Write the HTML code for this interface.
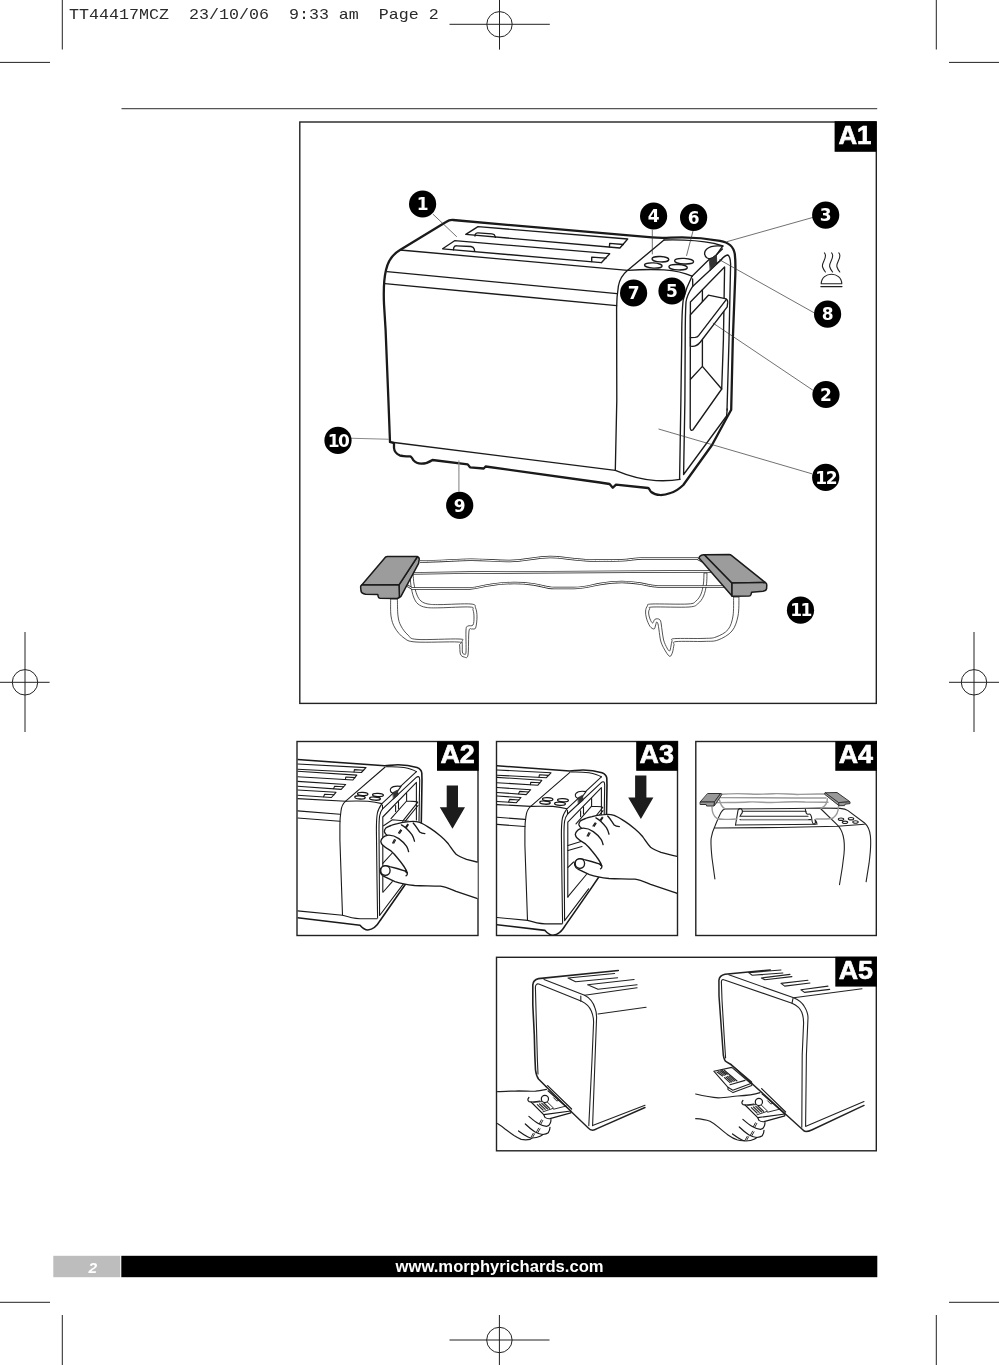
<!DOCTYPE html>
<html lang="en">
<head>
<meta charset="utf-8">
<title>Morphy Richards TT44417MCZ - Page 2</title>
<style>
html,body{margin:0;padding:0;background:#fff;}
body{width:999px;height:1365px;position:relative;overflow:hidden;font-family:"Liberation Sans",sans-serif;}
#art{position:absolute;left:0;top:0;width:999px;height:1365px;}
body>*{will-change:transform;}
.slug{position:absolute;left:69.4px;top:4.6px;font-family:"Liberation Mono",monospace;font-size:14.4px;line-height:20px;color:#2a2a2a;white-space:pre;transform:scaleX(1.1574);transform-origin:0 0;}
</style>
</head>
<body>
<div class="slug">TT44417MCZ  23/10/06  9:33 am  Page 2</div>
<svg id="art" viewBox="0 0 999 1365" width="999" height="1365">
<!-- CROP MARKS -->
<g stroke="#222" stroke-width="1" fill="none">
<path d="M62.3 0V49.5M0 62.4H50M936.3 0V49.5M949 62.4H999M0 1302.3H50M62.3 1315V1365M949 1302.3H999M936.3 1315V1365"/>
<path d="M449.5 24.3H549.8M499.5 0V49.6"/><circle cx="499.5" cy="24.3" r="12.7"/>
<path d="M449.5 1340H549.5M499.4 1315V1365"/><circle cx="499.4" cy="1340" r="12.7"/>
<path d="M0 682.3H49.6M25 632V732"/><circle cx="25" cy="682.3" r="12.7"/>
<path d="M949 682.3H999M974 632V732"/><circle cx="974" cy="682.3" r="12.7"/>
</g>
<!-- RULE -->
<path d="M121.5 108.6H877.2" stroke="#555" stroke-width="1.2" fill="none"/>
<!-- BOXES -->
<g stroke="#222" stroke-width="1.4" fill="none">
<rect x="299.8" y="122" width="576.5" height="581.4"/>
<rect x="297" y="741.5" width="181" height="194"/>
<rect x="496.5" y="741.5" width="181" height="194"/>
<rect x="695.8" y="741.5" width="180.5" height="194"/>
<rect x="496.5" y="957.3" width="379.8" height="193.5"/>
</g>
<g id="fig-a1" fill="none" stroke="#1a1a1a" stroke-linecap="round" stroke-linejoin="round">
<!-- toaster silhouette -->
<path stroke-width="2.3" d="M390 442 L388.4 400 L385.6 330 L384 304 C383.4 290 383.6 280 386 270 C388 261 393 254 400 250 L446 222 Q449.5 219.7 453 220 L540 227.7 L600 232.8 L652 237.4 C664 238.6 670 237.3 682 237.3 C695 237.3 708 238.6 720 240.8 C729 242.5 733.5 246 734.8 254 C735.8 262 735.4 268 735.3 275 L732.8 340 L731.2 409.7 L727.2 417 L712 445 L683.3 485 C679 489 675 492 670.5 493 C664 495.6 656 496 651.2 492 C649.5 490.5 649.5 488.3 648 488 L616 484.6 L612.8 487.8 L609.6 484 L600 482.5 L485.6 466.5 L483.7 468.5 L470 467.3 L467.7 464.4 L432.5 460 C428 463 425 463.7 421.2 463.7 C417 463.7 414.5 461.5 413.2 460 C412 457.5 411.5 456.5 410 456.4 C405 456.2 402 456 399.6 455.3 C396 453.5 394.3 451 394 448 L394 443.2 L390 442"/>
<g stroke-width="1.35">
<!-- top face edges -->
<path d="M400 250 L627.7 270.3"/>
<path d="M387 271.6 L617 293.6"/>
<path d="M385 283.6 L616.6 305.6"/>
<path d="M390 442 L615.3 470.3"/>
<!-- slots -->
<path d="M478 226.6 L627.7 239 L619.9 248 L465.8 234.4 Z"/>
<path d="M475 236 L475.3 234.2 Q476 232.8 478 232.9 L492 233.8 Q494.6 234 495 236 L495.4 237.4"/>
<path d="M609.4 246.9 L609.7 243.4 L623.4 244.5"/>
<path d="M454.6 240.7 L609.7 253.7 L601.3 262.7 L442.6 248.8 Z"/>
<path d="M453.4 249.8 L453.8 247.6 Q454.6 245.7 456.6 245.8 L471 246.5 Q473.6 246.8 474.2 249 L474.7 251.4"/>
<path d="M591.7 261.6 L591.7 257.2 L606 258.1"/>
<!-- control panel -->
<path d="M664 240 L627.7 270.3 C622 275 619.5 280 618.4 286 C617 295 616.6 300 616.6 308 L616.8 400 L615.3 470.3"/>
<path d="M627.7 270.3 C640 269.5 650 269.2 664 269.8 C675 270.5 684 272.5 692 276.2"/>
<path d="M615.3 470.3 C630 476.5 642 479.5 656 480.6 C666 481 674 480.5 680 479.3"/>
<path d="M664 240 C680 239.6 700 240.6 714 243.4 L722.8 246"/>
<path d="M692 276.2 L722.8 246"/>
<ellipse cx="660.4" cy="259.2" rx="8.4" ry="2.7" transform="rotate(3 660.4 259.2)"/>
<ellipse cx="684.1" cy="261.2" rx="9.5" ry="2.8" transform="rotate(3 684.1 261.2)"/>
<ellipse cx="653.3" cy="265.5" rx="8.8" ry="2.6" transform="rotate(3 653.3 265.5)"/>
<ellipse cx="678.1" cy="267.2" rx="9.2" ry="2.7" transform="rotate(3 678.1 267.2)"/>
</g>

<g stroke-width="1.35">
<!-- side face frame -->
<path d="M692 276.2 C688.5 283 685 292 683.2 300 C682 310 681.7 325 681.7 340 L680.9 400 L679.6 479.3"/>
<path d="M692.6 279 L692.8 286.2 C689 292 686.6 297 686 302 C685.2 315 685.2 328 685.2 340 L684.9 400 L683.6 474.5 L726.6 416 L727.2 409"/>
<path d="M692.8 286.2 L720.5 260.5 C723 257.5 725.5 255.2 727.6 255 C729.6 255.6 730.4 259 730.6 264 L729 340 L727 410"/>
<!-- window -->
<path d="M690.4 302 L724.6 267 L723.4 340 L721.7 389 L692.8 430 Q690.6 431.2 690.2 428 Z"/>
<path d="M702.4 290 L702.4 366.4 L690.5 379.3 M702.4 366.4 L721.7 389"/>
<!-- lever -->
<path fill="#fff" d="M708.4 295.2 L725.2 298.6 C727.4 299.2 727.8 300.6 727.7 302.4 L727.2 306.8 L700.4 342 C698 345 695.5 346.4 692.5 346.4 L690.4 346.2 L690.4 314.8 Z"/>
<path d="M726.4 299.4 L698.6 335.6 Q697.5 337.2 695.2 337.4 L690.4 337.6"/>
<!-- knob -->
<path fill="#fff" d="M722.6 246.2 C716 245.4 709.5 246.6 706.5 249.2 C703.6 252 704.2 256 707.2 258 C710 259.6 713 258.4 716 255.6 Z"/>
<path fill="#333" stroke="#222" stroke-width="0.8" d="M709.6 259.8 L716.4 254.6 L716.8 263.8 L710.4 270.2 Z"/>
<path d="M716.6 254.4 L722.4 249 M716.8 263.6 L721.6 259.4"/>
</g>
<!-- bun warmer icon -->
<g stroke-width="1.1" stroke="#222">
<path d="M824.4 252.8 C828.5 257 821 262.5 822.6 267 C823.2 269 824.2 270.5 825.4 272"/>
<path d="M831.6 252.8 C835.7 257 828.2 262.5 829.8 267 C830.4 269 831.4 270.5 832.6 272"/>
<path d="M838.8 252.8 C842.9 257 835.4 262.5 837 267 C837.6 269 838.6 270.5 839.8 272"/>
<path d="M821.2 283.8 C821.6 271 841.4 271 841.8 283.8 Z"/>
<path d="M820.8 286.6 H842"/>
</g>
<!-- leaders -->
<g stroke-width="0.7" stroke="#333">
<path d="M433.2 214.4 L456.5 236.5"/>
<path d="M727.2 241.6 L812.6 217.5"/>
<path d="M652.3 230 L652.3 254"/>
<path d="M693 231 L686.6 255.5"/>
<path d="M719.6 259.8 L814.5 313"/>
<path d="M713.2 323.2 L812.6 390"/>
<path d="M658.9 429.1 L811.6 473.7"/>
</g>
<g stroke-width="1.1" stroke="#8a8a8a">
<path d="M458.9 460.9 L458.9 491.3"/>
<path d="M351.6 438.3 L388.5 439.3"/>
</g>
<!-- callouts -->
<g stroke="none" fill="#000">
<circle cx="422.6" cy="204" r="13.6"/><circle cx="653.6" cy="216" r="13.6"/><circle cx="693.6" cy="217.4" r="13.6"/>
<circle cx="633.6" cy="293" r="13.6"/><circle cx="672" cy="291" r="13.6"/><circle cx="825.7" cy="215.1" r="13.6"/>
<circle cx="827.6" cy="314.1" r="13.6"/><circle cx="826" cy="394.5" r="13.6"/><circle cx="825.7" cy="477.4" r="13.6"/>
<circle cx="338" cy="440.4" r="13.6"/><circle cx="459.7" cy="505.4" r="13.6"/><circle cx="800.5" cy="610.2" r="13.6"/>
</g>
<g stroke="none" fill="#fff" font-family="'DejaVu Sans','Liberation Sans',sans-serif" font-weight="bold" font-size="17" text-anchor="middle" stroke="#fff" stroke-width="0.35">
<text x="422.6" y="210.2">1</text><text x="653.6" y="222.2">4</text><text x="693.6" y="223.6">6</text>
<text x="633.6" y="299.2">7</text><text x="672" y="297.2">5</text><text x="825.7" y="221.3">3</text>
<text x="827.6" y="320.3">8</text><text x="826" y="400.7">2</text><text x="825.7" y="483.6" letter-spacing="-1.5">12</text>
<text x="338" y="446.6" letter-spacing="-1.5">10</text><text x="459.7" y="511.6">9</text><text x="800.5" y="616.4" letter-spacing="-1.5">11</text>
</g>
<!-- rack -->
<g id="rack" fill="none" stroke-linecap="butt" stroke-linejoin="round">
<path d="M390.6 599 C390.7 601.8 390.3 611.2 391 616 C391.7 620.8 392.8 624.3 395 628 C397.2 631.7 400.5 635.7 404 638 C407.5 640.3 407.0 641.3 416 642 C425.0 642.7 450.7 641.5 458 642 C465.3 642.5 459.2 643.0 459.6 645 C460.0 647.0 459.7 652.0 460.4 654 C461.1 656.0 462.7 656.8 464 657 C465.3 657.2 467.2 659.3 468 655 C468.8 650.7 468.3 635.3 469 631 C469.7 626.7 470.9 629.5 472 629 C473.1 628.5 474.8 630.0 475.6 628 C476.4 626.0 477.0 620.3 477 617 C477.0 613.7 476.6 610.2 475.6 608 C474.6 605.8 476.9 604.6 471 604 C465.1 603.4 447.2 604.6 440 604.6 C432.8 604.6 431.2 604.6 428 604 C424.8 603.4 422.8 602.5 421 601 C419.2 599.5 418.2 597.8 417 595 C415.8 592.2 414.6 587.3 414 584 C413.4 580.7 413.3 576.5 413.2 575 L410.2 575 C410.3 576.8 410.4 582.3 411 586 C411.6 589.7 412.4 594.0 413.6 597 C414.8 600.0 415.9 602.3 418 604 C420.1 605.7 422.3 606.8 426 607.4 C429.7 608.0 432.7 607.9 440 607.8 C447.3 607.7 464.5 606.6 470 607 C475.5 607.4 472.3 608.3 473 610 C473.7 611.7 474.0 614.5 474 617 C474.0 619.5 474.0 623.5 473 625 C472.0 626.5 469.2 625.2 468 626 C466.8 626.8 466.3 625.7 466 630 C465.7 634.3 466.3 648.0 466 652 C465.7 656.0 464.6 654.0 464 654 C463.4 654.0 462.7 654.0 462.4 652 C462.1 650.0 462.6 644.2 462 642 C461.4 639.8 466.5 639.4 459 639 C451.5 638.6 425.5 640.1 417 639.4 C408.5 638.7 410.7 637.2 408 635 C405.3 632.8 402.7 629.2 401 626 C399.3 622.8 398.6 620.5 398 616 C397.4 611.5 397.5 601.8 397.4 599 Z" fill="#fff" stroke="#2a2a2a" stroke-width="0.8"/>
<path d="M739 597 C738.8 600.2 739.2 610.3 738 616 C736.8 621.7 735.3 627.0 732 631 C728.7 635.0 722.7 638.3 718 640 C713.3 641.7 711.0 641.1 704 641.4 C697.0 641.7 681.0 641.0 676 641.6 C671.0 642.2 674.6 643.3 674 645 C673.4 646.7 673.3 650.1 672.6 652 C671.9 653.9 671.1 656.4 670 656.4 C668.9 656.4 667.5 654.4 666 652 C664.5 649.6 662.2 645.7 661 642 C659.8 638.3 659.5 633.0 659 630 C658.5 627.0 658.4 625.3 658 624 C657.6 622.7 657.0 621.7 656.6 622 C656.2 622.3 655.8 624.8 655.4 626 C655.0 627.2 654.9 628.9 654 629 C653.1 629.1 651.3 628.2 650 626.4 C648.7 624.6 647.1 620.6 646.4 618 C645.7 615.4 645.4 613.0 645.6 611 C645.8 609.0 646.3 607.2 647.4 606 C648.5 604.8 645.2 604.3 652 604 C658.8 603.7 680.7 604.5 688 604 C695.3 603.5 693.8 602.7 696 601 C698.2 599.3 699.8 596.8 701 594 C702.2 591.2 702.9 587.5 703.4 584 C703.9 580.5 703.9 574.8 704 573 L707 573 C706.9 575.0 707.0 581.2 706.4 585 C705.8 588.8 705.0 592.9 703.6 596 C702.2 599.1 700.4 601.8 698 603.6 C695.6 605.4 696.5 606.4 689 607 C681.5 607.6 659.6 606.7 653 607 C646.4 607.3 650.3 608.0 649.6 609 C648.9 610.0 648.5 611.3 648.6 613 C648.7 614.7 649.3 617.3 650 619 C650.7 620.7 651.8 622.9 652.6 623 C653.4 623.1 653.8 620.3 654.6 619.6 C655.4 618.9 656.6 618.6 657.6 618.8 C658.6 619.0 659.9 619.1 660.6 621 C661.3 622.9 661.5 626.8 662 630 C662.5 633.2 662.8 637.0 663.6 640 C664.4 643.0 666.0 646.2 667 648 C668.0 649.8 668.9 651.3 669.6 651 C670.3 650.7 670.6 647.7 671 646 C671.4 644.3 671.4 642.2 672 641 C672.6 639.8 669.3 639.0 674.6 638.6 C679.9 638.2 697.1 638.7 704 638.4 C710.9 638.1 712.0 638.5 716 637 C720.0 635.5 725.2 633.1 728 629.6 C730.8 626.1 732.1 621.4 733 616 C733.9 610.6 733.5 600.2 733.6 597 Z" fill="#fff" stroke="#2a2a2a" stroke-width="0.8"/>
<path d="M420 561.4 C440 561.2 455 560 470 559.7 C485 559.5 495 561.2 510 561 C525 560.8 535 557.2 550 557 C560 556.9 575 560 590 560.4 C605 560.7 612 560.6 622 560.3 C630 560 635 558.5 642 558.4 L697 558.4 L703 561.6" stroke="#2a2a2a" stroke-width="2.5"/><path d="M420 561.4 C440 561.2 455 560 470 559.7 C485 559.5 495 561.2 510 561 C525 560.8 535 557.2 550 557 C560 556.9 575 560 590 560.4 C605 560.7 612 560.6 622 560.3 C630 560 635 558.5 642 558.4 L697 558.4 L703 561.6" stroke="#fff" stroke-width="1.0"/>
<path d="M408 573.4 L470 572.6 L670 571.5 L714 571.6" stroke="#2a2a2a" stroke-width="2.5"/><path d="M408 573.4 L470 572.6 L670 571.5 L714 571.6" stroke="#fff" stroke-width="1.0"/>
<path d="M401 584.4 L408 586 L412 588.5 L470 588.4 C478 588 482 586 490 585 C500 583.4 506 583 514 583 C522 583 528 583.6 534 584.4 C542 585.6 547 588 554 588 L574 588 C584 588 592 585.4 600 584 C608 582.6 614 582 622 582 C630 582 635 582.8 640 583.6 C648 585 652 586.2 658 586.4 L726 586.4" stroke="#2a2a2a" stroke-width="2.5"/><path d="M401 584.4 L408 586 L412 588.5 L470 588.4 C478 588 482 586 490 585 C500 583.4 506 583 514 583 C522 583 528 583.6 534 584.4 C542 585.6 547 588 554 588 L574 588 C584 588 592 585.4 600 584 C608 582.6 614 582 622 582 C630 582 635 582.8 640 583.6 C648 585 652 586.2 658 586.4 L726 586.4" stroke="#fff" stroke-width="1.0"/>
</g>
<g stroke="#1a1a1a" stroke-width="1.5" stroke-linejoin="round" fill="#9c9c9c">
<path d="M399 584.8 L417.4 556.8 Q419.4 557.4 419.2 559.4 L418.6 563.4 L400.8 596.6 Q399.6 598 397.6 598.2 L399 597 Z"/>
<path d="M361.8 585 L385.4 557.2 Q386.2 556.6 387.4 556.6 L417.4 556.6 L399 584.8 Z"/>
<path d="M361.8 585 L399 584.8 L399.4 596.4 Q399 598.2 397 598.4 L380 598.2 Q378.4 598 378.2 596.6 L377.8 594.6 L365.6 594.2 Q361.6 593.6 361 591 L360.6 587 Q360.6 585.4 361.8 585 Z"/>
<path d="M732 583 L704.4 554.8 Q701.6 554.4 699.6 556.6 L699 558 L732 596 Z"/>
<path d="M704.4 554.8 L729 554.5 Q730.6 554.6 731.4 555.4 L765.4 582.6 L732 583 Z"/>
<path d="M732 583 L765.4 582.6 Q766.8 583.4 766.8 585 L766.6 588.6 Q766.2 590.8 763 591.2 L751.6 592.2 L751 594.6 Q750.6 596 749 596.1 L732 596.2 Z"/>
</g>
</g>

<defs>
<clipPath id="clipA2"><rect x="297.6" y="742" width="180" height="193"/></clipPath>
<clipPath id="clipA3"><rect x="497.1" y="742" width="180" height="193"/></clipPath>
<g id="toaster4" fill="none" stroke="#1a1a1a" stroke-linecap="round" stroke-linejoin="round">
<!-- outer -->
<path stroke-width="1.6" d="M270 757.5 L297.6 759.5 L384.8 765.8 C390 765.4 394 764.8 398 764.8 C404 764.8 412 766 417 767.5 C420 768.6 421.4 770 421.8 773 L422 780 L421.3 822 L420.5 862 L405.4 884.2 L380 920.7 C377 926 373 929.6 367.9 930 C364 929.8 362 927.5 360 925.2 L297.6 917.8 L270 914.5"/>
<g stroke-width="1.1">
<!-- slots -->
<path d="M270 762 L297.6 764 L366 767.6 L361.4 772.5 L297.6 769.3 L270 767.9"/>
<path d="M354 771.9 L354.4 769.6 L363.6 770.2"/>
<path d="M270 769.4 L297.6 771.2 L356.8 775.1 L352.9 780 L297.6 776.7 L270 775"/>
<path d="M345.4 779.4 L345.8 777 L355 777.6"/>
<path d="M270 779.6 L297.6 781.4 L345.7 784.5 L341.2 789.4 L297.6 786.2 L270 784.2"/>
<path d="M333.6 788.6 L334.6 786.2 L343.6 786.8"/>
<path d="M270 788.4 L297.6 790 L336 792.3 L331.4 797.5 L297.6 795.3 L270 793.5"/>
<path d="M323.6 796.8 L324.6 794.2 L334 794.8"/>
<!-- front edge of top and bands -->
<path d="M270 797 L297.6 798.6 L345.7 801.2"/>
<path d="M270 808.8 L297.6 810.9 L339.9 814.2"/>
<path d="M270 816 L297.6 818 L339.9 821.3"/>
<path d="M270 907.8 L297.6 910.9 L342.5 915.2 C350 917.5 355 918.4 360 918.7 L377 918.7"/>
<!-- panel -->
<path d="M385.2 767 L345.7 801.2 C342.5 804 341.4 807 341 811 C340.2 816 339.9 820 339.9 825 L339.9 840 L342.5 915"/>
<path d="M345.7 801.2 C353 801 360 801 367.9 801.2 C373 801.6 377.5 802.4 381.9 803.6 L416.4 771.7"/>
<path d="M386.5 766.8 C393 766.6 400 767 404 767.5 C409 768.4 413 769.6 416.4 771.6"/>
<ellipse cx="362.7" cy="794" rx="5.2" ry="1.6" stroke-width="1.3" transform="rotate(3 362.7 794)"/>
<ellipse cx="378" cy="795" rx="5.4" ry="1.6" stroke-width="1.3" transform="rotate(3 378 795)"/>
<ellipse cx="360" cy="797.4" rx="5.2" ry="1.6" stroke-width="1.3" transform="rotate(3 360 797.4)"/>
<ellipse cx="375" cy="798.6" rx="5.4" ry="1.6" stroke-width="1.3" transform="rotate(3 375 798.6)"/>
<!-- side frame -->
<path d="M381.9 803.6 C379.6 807 378 810 377.4 813 C376.6 817 376.4 822 376.4 830 L377 880 L377.6 918"/>
<path d="M382.4 805 L382.6 808.8 C381 811 380 813.5 379.6 816 C379 820 379 826 379 830 L379.6 915.5 L403.6 883.6"/>
<path d="M382.6 808.8 L416 777.6 C417.6 776.4 418.8 776.2 419.4 777.6 L419.7 780 L419 821.2"/>
<path d="M382.8 817 L416.4 782.4 L416.4 819.9 M382.8 817 L382.8 892"/>
<path d="M406.6 793.2 L406.6 801 L417 801.6 M406.6 801 L391 818.6 M417.7 802.3 L402.7 821.2 M418 805.5 L405.3 821.2"/>
<path d="M395.6 805.5 L395.6 811.4 M398.5 801.6 L398.5 808.8"/>
<!-- knob -->
<path fill="#fff" d="M401 786.4 C397 785.8 392.6 786.4 391 788.2 C389.6 790 390.4 792.2 392.6 793 C394.6 793.4 396.4 792.4 398 790.6 Z"/>
<path fill="#333" stroke="#222" stroke-width="0.6" d="M393 792.5 L397.5 790 L398.2 795.1 L393.6 799 Z"/>
</g>
</g>
<g id="hand4" fill="#fff" stroke="#1a1a1a" stroke-width="1.35" stroke-linecap="round" stroke-linejoin="round">
<path d="M490 865.2 L478 862.3 L466.5 859.4 C462 857.6 458.6 856 456.1 854.2 C453 851 451 847.5 448.3 843.8 C446 841 443.5 838.5 440.5 836 C437 833 433 830 430 828.1 C426 825.6 423 823.5 419.7 822.3 C416 821.2 412 821.2 409.3 821.6 C405 822 401 822.6 397.5 823.6 C394 824.4 392 825 391 825.5 C388 826.6 386.6 827.4 385.8 828.1 C384.6 829.4 384.2 830.6 384.5 832 C385 833.5 386 834.6 387.1 835.3 C385 835.8 384 836.5 383.2 837.3 C381.6 838.8 380.6 840.2 380.9 841.8 C381.2 843.4 381.8 844.2 382.6 845 C385 847.5 388 849 391 850.9 C393.5 853 395.5 855.4 397.5 858 C400 861 402 863.6 404 866.5 C405.4 868.6 406.6 870.6 407.3 873 L405.4 871.2 L397 868.5 L389.7 866.7 C387 865.6 384.6 865.4 382.6 866.6 C380.4 868 379.8 870.6 380.4 872.6 C381 874.6 382.4 875.8 383.9 876.4 C388 878.4 391 880 395 881.6 C401 883.6 408 884.8 414.5 885.5 C424 886 432 885.6 440.5 886.2 C446 887 451 889.4 456.1 891.4 L477.6 898.6 L490 902.6 Z"/>
<g fill="none">
<path d="M413.2 823 C416 826 417.6 829.4 419.7 832 C421 833.2 423 833.6 424.9 833.6"/>
<path d="M401.4 824.9 C405 826.6 408.6 830.4 411.9 834.7 C413.2 836.8 414 839 414.5 841.2"/>
<path d="M387.1 835.3 C391 834.8 395.6 836.4 398.8 838.6 C402 840.8 404.6 843.6 406.6 846.4 C407.6 848 408.2 849.8 408.6 851.6"/>
<circle cx="385.4" cy="870.6" r="4.7" fill="#fff"/>
<path d="M405.4 871.2 L407.3 873 C407.6 874.4 407 875.4 406 875.8"/>
<path stroke-width="1.1" d="M405.6 827 L407.6 824.2 M406.6 827.4 L408.4 824.8 M398.4 833 L400.6 829.8 M399.6 833.4 L401.6 830.4 M392.6 843 L394.4 839.6 M393.8 843.2 L395.6 840"/>
</g>
</g>
</defs>
<g clip-path="url(#clipA2)">
<use href="#toaster4"/>
<path d="M382.8 863.4 L392.3 853 M383.2 892 L392.3 881.6" fill="none" stroke="#1a1a1a" stroke-width="1.1" stroke-linecap="round"/>
<path d="M383.2 826 L392.3 819.7 L409 821.2" fill="none" stroke="#1a1a1a" stroke-width="1.1"/>
<use href="#hand4"/>
<path d="M446.7 785.5 H458 V807.3 H465 L452.5 828.8 L439.8 807.3 H446.7 Z" fill="#1c1c1c"/>
</g>

<g clip-path="url(#clipA3)">
<use href="#toaster4" transform="translate(185 5.2)"/>
<path d="M568 896.6 L586.4 874.5 M568 867.4 L573.6 862 M568 845.5 L581 841.5 M568 850.5 L582 846.5" fill="none" stroke="#1a1a1a" stroke-width="1.1" stroke-linecap="round"/>
<use href="#hand4" transform="translate(194.5 -7)"/>
<path d="M446.7 785.5 H458 V807.3 H465 L452.5 828.8 L439.8 807.3 H446.7 Z" fill="#1c1c1c" transform="translate(188.4 -9.9)"/>
</g>

<g id="fig-a4" fill="none" stroke="#222" stroke-linecap="round" stroke-linejoin="round">
<!-- toaster body -->
<g stroke-width="1.1">
<path d="M714.9 879 L712 858 C711 848 710.6 842 711.2 838 C712 833 713.4 829.4 715 826 C717 821 719 816 721 812.4 C722.4 810 723.4 809.2 725 809 L794 808.5 L820 808 L840 808.4 C844 808.8 846.4 809.6 848 810.6 L864.6 823 C867.6 825.6 869.6 829 870.4 836 C871.2 844 870.6 852 869 863.7 L866.1 881.8"/>
<path d="M821 809 L837 824.6 C840 827.4 842 831 843.2 836 C844.4 841 844.6 848 844 854 L842.3 867.5 L839.5 884.7"/>
<path d="M714.6 828 L780 827.5 L837.6 826.3 L864.4 824.3"/>
<!-- slot lines -->
<path d="M742.4 811.2 H806 M741 816.3 H808 M740 819.6 H811 M735.5 825 L794 824.5 L816 824.3"/>
<path d="M735.5 825 L737.5 813.4 L738 810.4 C738.6 808.4 740.6 808 741.6 809.2 C742.6 810.6 742.4 813 741 814.4 L740 816.6"/>
<path d="M805.4 809.2 C805.6 812.6 806.6 814.6 808.4 814.2 C810.6 813.4 811.6 816 811.8 819 C812 822 812.6 824 814 824.2 C815.6 824 815.6 821.6 815 819.6 C816.4 821.4 817 823 817 824.3"/>
<ellipse cx="841" cy="819.2" rx="2.7" ry="1.2"/><ellipse cx="851" cy="818.7" rx="2.7" ry="1.2"/>
<ellipse cx="845" cy="822.3" rx="2.7" ry="1.2"/><ellipse cx="855.5" cy="822" rx="2.7" ry="1.2"/>
</g>
<!-- rack wires -->
<g stroke="#9a9a9a" stroke-width="1.4">
<path d="M721 794.2 C730 793.6 740 793.4 750 794 C760 794.6 768 794 776 793.6 C786 793.4 792 794.8 800 794.4 C808 794 815 793.8 825 794"/>
<path d="M719 797.6 L760 797.8 L794 798 L826 798"/>
<path d="M717 802.6 C730 802.4 740 802.6 748 802 C758 801.4 766 803 776 802.4 C786 801.8 795 801.6 805 802 L828 802.2"/>
<path d="M712 807 C712 812 713.4 816 717 818.5 C720 820 724 819.6 737 819"/>
<path d="M719.5 800 C720.4 804 722 807 724.6 808.6"/>
<path d="M838.5 806 C838.4 812 836.6 815.6 833 818 C830 819.4 826 819 816 819"/>
<path d="M827.4 798.6 C827.4 803 825.4 806.4 821 808.4"/>
<path d="M741 819.4 H808" stroke-width="1"/>
</g>
<!-- blocks -->
<g fill="#999" stroke="#333" stroke-width="1">
<path d="M708 793.5 H721 L714.5 802 H700.5 Z"/>
<path d="M700.5 802 H714.5 L714 806 H706.6 L706.2 804.5 H700.5 Z"/>
<path d="M721 793.5 L721.8 794.6 L715.4 804.4 L714.2 806 L714.5 802 Z"/>
<path d="M825.4 792.8 L837 792.5 L850 801.8 L838.6 802.6 Z"/>
<path d="M838.6 802.6 L850 801.8 L850 803.6 L845 804.2 L844.6 805.6 L839 805.7 Z"/>
<path d="M825.4 792.8 L838.6 802.6 L839 805.7 L824.8 794.4 Z"/>
</g>
</g>

<g id="fig-a5" fill="none" stroke="#222" stroke-linecap="round" stroke-linejoin="round" stroke-width="1.1">
<!-- left toaster -->
<path stroke-width="1.6" d="M618.3 970.5 L538.5 978.6 C534.6 979.4 533 981.6 532.8 985 L532.8 1005 L534.3 1035 L534.8 1055 L535.5 1070 C536 1074 537 1077 538.5 1079 L546 1086.5"/>
<path stroke-width="1.4" d="M546 1086.5 L571.6 1112 L588 1127.8 C589.6 1129.6 591 1130.2 592.6 1130.2 C594.4 1130.2 595.8 1129.4 597 1128.6 L645 1107.5"/>
<path d="M592.6 1125.6 L645 1105.3"/>
<path d="M535.4 987 C535.6 984.4 537 983.4 538.8 984 L581.6 1001.3 C586 1003.4 589.4 1006.6 591.3 1011 C593 1015 593.6 1018 593.6 1022 L592 1060 L588.8 1125.6"/>
<path d="M535.4 987 L536 1010 L537.4 1060 L538 1074"/>
<path d="M544 979.5 L584.6 995.3 C589.6 997.8 593 1002 595 1008 C596.2 1011 596.6 1014 596.6 1017 L595 1060 L592.6 1125.6"/>
<path d="M580.8 996 L580.8 1001.3"/>
<path d="M584.6 995.3 L637.1 987.8"/>
<path d="M598 1014 L646.1 1007.3"/>
<path d="M614.6 973.5 L568 978 L575.6 981.8 L617.6 977.7"/>
<path d="M634.1 979.5 L587.6 984.8 L598 989.3 L637.1 984.8"/>
<!-- left tray + hand -->
<defs>
<clipPath id="clipA5"><rect x="497.1" y="958" width="378.6" height="192.2"/></clipPath>
<g id="tray5" fill="none" stroke="#1a1a1a" stroke-width="1.2" stroke-linecap="round" stroke-linejoin="round">
<path fill="#fff" stroke="none" d="M528 1096 L548 1090.6 L570.8 1111 L570.8 1113 L551 1119 L550 1127 L548.3 1132.7 L542.8 1134.5 L540 1136.4 L532 1138 L519 1131 L526 1124 L529 1116.4 Z"/>
<path d="M531.1 1102 L543.7 1114.6 L570.8 1111 L548 1090.8"/>
<path d="M543.7 1114.6 L545 1117.4 Q547 1119 550 1118.7 L570.8 1112.9 L570.8 1111"/>
<path d="M547.6 1085.6 L571.6 1109"/>
<path stroke-width="0.9" d="M533.6 1102.4 L546.4 1101.2 L553.6 1108.2 L543 1111.8"/>
<path d="M553.7 1109.2 L566.3 1106" stroke-width="0.9"/>
<path d="M553.6 1097.8 L556.8 1101 L558.6 1100.4" stroke-width="0.9"/>
<path stroke-width="1.3" stroke="#333" d="M537.4 1104.6 L543 1110 M539.6 1104 L545.2 1109.4 M541.8 1103.4 L547.4 1108.8 M544 1103 L549.4 1108.2"/>
<path d="M528.9 1097.5 C527.4 1099.2 527.6 1100.6 529 1101.6 L531.1 1102 C534 1101.8 537 1101.4 540 1101"/>
<circle cx="544.9" cy="1098.9" r="3.6" fill="#fff"/>
<path d="M528.9 1116.4 C532 1119 535 1121.6 538.3 1123.6 C541 1125.2 544 1126.4 546.5 1126.4 C548.6 1126 549.6 1125 550 1123.6 C550.8 1122.4 551 1121.2 551 1119.6"/>
<path d="M525.3 1124 C528.4 1127 531.6 1129.6 534.7 1131.8 C537.6 1133.4 540.4 1134.5 542.8 1134.5 C545.4 1134.3 547.2 1133.6 548.3 1132.7 C549.4 1131 550 1129.2 550 1127.3"/>
<path d="M518.5 1130.9 C521.4 1133 524.4 1135 527.5 1136.7 C529.2 1137.6 530.8 1138 532 1138 C535 1138 538 1137.4 540.1 1136.3 C541.4 1135.6 542.2 1135 542.8 1134.5"/>
<path stroke-width="0.9" d="M539.4 1123.6 L541.4 1119.8 M540.8 1124.2 L542.8 1120.4 M536.6 1131.8 L538.6 1128.2 M538 1132.4 L540 1128.8 M531.4 1136.6 L533.2 1133.4 M532.8 1137 L534.6 1133.8"/>
</g>
</defs>
<g clip-path="url(#clipA5)">
<path d="M481 1090 C488 1091.6 493 1091.8 497.4 1091.7 C505 1091.6 512 1091 518.5 1090.8 C525 1090.8 531 1091.4 535.6 1091.2 C540 1090.8 543.5 1090 546.5 1089.4" stroke-width="1.2"/>
<path d="M481 1116 C487 1118 492.6 1120.6 497.4 1123.6 C500 1125.2 502.6 1127 505 1129 C508 1131.2 511 1133.4 514 1135.4 C516.6 1137 519 1138.4 521.2 1139.4 C524 1140 527.4 1140 530.2 1139.4 L532 1138" stroke-width="1.2"/>
<use href="#tray5"/>
</g>
<!-- right toaster -->
<path stroke-width="1.5" d="M770.3 970 L725 974.2 C721 975 719.2 977 718.9 980.4 L719 996 L721.6 1032 L723.3 1055 C724 1059 725 1061 726.1 1061.6 L730.9 1064.5"/>
<path stroke-width="1.4" d="M730.9 1064.5 L802.2 1129.2 C803.6 1130.8 804.8 1131.5 806 1131.5 C808 1131.5 810 1130.8 811.7 1130 L864 1105.4"/>
<path d="M806 1126.3 L864 1101.6"/>
<path d="M721.4 982 C721.4 980 722.4 979.2 723.8 979.8 L792 1003.2 C797 1005.4 800.2 1008.4 801.8 1012.2 C803.2 1016 803.6 1019 803.6 1023 L802.2 1055 L801.8 1127.3"/>
<path d="M721.4 982 L722 1000 L724.4 1040 L725.6 1058"/>
<path d="M728.8 974.8 L793.7 997.8 C799 1000 802.4 1003 804.5 1006.8 C806.8 1010.6 808 1014 808 1017.6 L806.4 1055 L805.6 1126.3"/>
<path d="M793 998.4 L792 1003.2"/>
<path d="M793.7 997.8 L862 988.8"/>
<path d="M781 970 L748.6 972.6 L752.3 975.3 L782.9 973 M790 974.4 L761.3 978 L764.9 979.8 L791.9 976.6 M808 980.2 L781 983.4 L784.7 986.1 L810 983 M828 986.1 L800.9 989.7 L804.5 992.4 L829.7 989.4"/>
<!-- right tray 1 -->
<path fill="#fff" d="M713.8 1071.2 L731.8 1067.4 L750.9 1083.5 L732.8 1090.2 L728 1087.3 Z"/>
<path d="M731.6 1064.8 L751.6 1082 L751.8 1085.6 L733 1092.6 L728 1089.6 L728 1087.3"/>
<path stroke-width="1.1" d="M717 1072 L722.6 1076 M718.6 1071.4 L724.2 1075.4 M720.2 1070.8 L725.8 1074.8 M721.8 1070.2 L727.4 1074.2 M724.4 1077.6 L730 1082.6 M726 1077 L731.6 1082 M727.6 1076.4 L733.2 1081.4 M729.2 1075.8 L734.8 1080.8"/>
<path d="M724 1070 L737 1081 M730 1084.8 L745 1080.4"/>
<!-- right tray 2 + hand -->
<path d="M695.7 1094 C703 1095.8 711 1097.4 718.5 1097.8 C725 1097.8 731 1096.6 737.5 1096 C745 1095.6 752 1095.2 760 1092.6" stroke-width="1.2"/>
<path d="M695.7 1118.7 C701 1119 706 1119.8 710 1121.3 C713.4 1123 716.4 1125.4 719 1127.6 C722 1130.2 725 1132.8 728 1134.9 C731 1137 734 1138.8 737 1139.8 C739.6 1140.6 742 1140.9 744.2 1140.7 L747.8 1139.4" stroke-width="1.2"/>
<use href="#tray5" transform="translate(214 3)"/>
</g>

<!--LABELS-->
<g id="labels" font-family="'Liberation Sans',sans-serif" font-weight="bold" font-size="25" fill="#fff" stroke="#fff" stroke-width="0.7" stroke-linejoin="round">
<rect x="834.6" y="121.2" width="41.8" height="30.6" fill="#000" stroke="none"/><text x="838.4" y="143.8" textLength="33" lengthAdjust="spacingAndGlyphs">A1</text>
<rect x="437" y="741.2" width="41.7" height="29.6" fill="#000" stroke="none"/><text x="440.4" y="763" textLength="34.3" lengthAdjust="spacingAndGlyphs">A2</text>
<rect x="636.2" y="741.2" width="41.7" height="29.6" fill="#000" stroke="none"/><text x="639.6" y="763" textLength="34.3" lengthAdjust="spacingAndGlyphs">A3</text>
<rect x="835.3" y="741.2" width="41.6" height="29.6" fill="#000" stroke="none"/><text x="838.7" y="763" textLength="34.3" lengthAdjust="spacingAndGlyphs">A4</text>
<rect x="835.3" y="956.8" width="41.6" height="29.8" fill="#000" stroke="none"/><text x="838.7" y="978.8" textLength="34.3" lengthAdjust="spacingAndGlyphs">A5</text>
</g>
<g id="footer" font-family="'Liberation Sans',sans-serif" font-weight="bold" fill="#fff">
<rect x="53.3" y="1255.8" width="67" height="21.4" fill="#bdbdbd"/>
<rect x="121.3" y="1255.8" width="756" height="21.4" fill="#000"/>
<text x="88.4" y="1273" font-size="14" font-style="italic" textLength="8.6" lengthAdjust="spacingAndGlyphs">2</text>
<text x="395.6" y="1272.2" font-size="16" textLength="208" lengthAdjust="spacingAndGlyphs">www.morphyrichards.com</text>
</g>
</svg>
</body>
</html>
